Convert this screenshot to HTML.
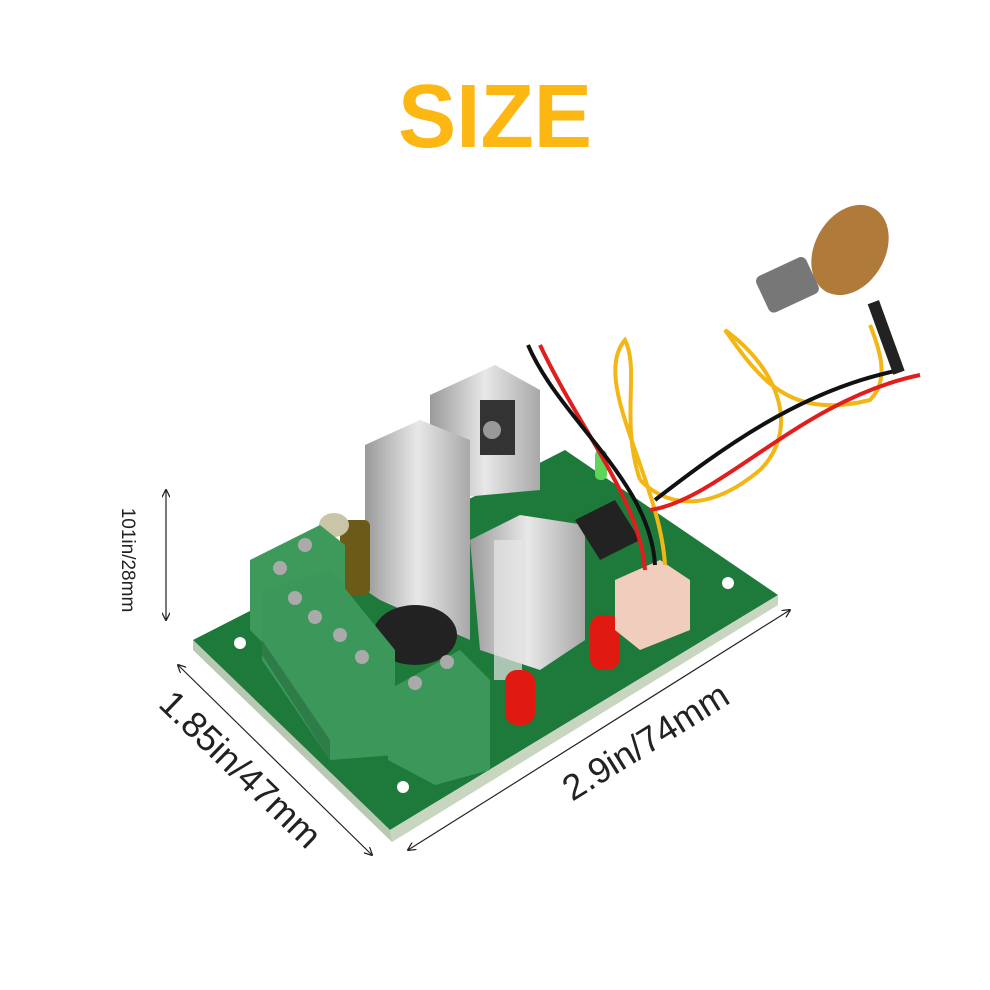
<!DOCTYPE html>
<html><head><meta charset="utf-8"><style>
html,body{margin:0;padding:0;background:#fff;}
svg{display:block}
text{font-family:"Liberation Sans","Noto Sans CJK SC",sans-serif;}
</style></head><body>
<svg width="990" height="990" viewBox="0 0 990 990" xmlns="http://www.w3.org/2000/svg">
<defs>
<marker id="ar" viewBox="0 0 10 10" refX="9" refY="5" markerWidth="7" markerHeight="7" orient="auto-start-reverse"><path d="M0,0 L10,5 L0,10" fill="none" stroke="#222" stroke-width="1.5"/></marker>
<linearGradient id="al" x1="0" x2="1"><stop offset="0" stop-color="#9a9a9a"/><stop offset="0.5" stop-color="#e8e8e8"/><stop offset="1" stop-color="#a8a8a8"/></linearGradient>
</defs>
<text x="495" y="147" text-anchor="middle" font-size="90" font-weight="bold" fill="#fdb713" textLength="194" lengthAdjust="spacingAndGlyphs">SIZE</text>

<!-- PCB -->
<polygon points="193,640 565,450 778,595 390,830" fill="#1e7a3a"/>
<polygon points="390,830 778,595 778,605 392,842" fill="#c8d6c0"/>
<polygon points="193,640 390,830 392,842 193,650" fill="#b9c9b1"/>
<circle cx="240" cy="643" r="6" fill="#fff"/><circle cx="403" cy="787" r="6" fill="#fff"/><circle cx="728" cy="583" r="6" fill="#fff"/>

<!-- heatsinks -->
<polygon points="430,395 495,365 540,390 540,490 430,500" fill="url(#al)"/>
<polygon points="365,445 420,420 470,440 470,640 380,600 365,590" fill="url(#al)"/>
<rect x="480" y="400" width="35" height="55" fill="#333"/>
<circle cx="492" cy="430" r="9" fill="#999"/>
<polygon points="470,540 520,515 585,525 585,640 540,670 480,650" fill="url(#al)"/>
<rect x="494" y="540" width="28" height="140" fill="#e6e6e6" opacity="0.7"/>
<ellipse cx="415" cy="635" rx="42" ry="30" fill="#222"/>

<!-- capacitor -->
<rect x="340" y="520" width="30" height="75" rx="6" fill="#6b5a18"/>
<ellipse cx="334" cy="525" rx="15" ry="12" fill="#c9c6a8"/>

<!-- terminals -->
<polygon points="250,560 320,525 345,545 345,615 265,645 250,630" fill="#3d9a5a"/>
<polygon points="262,590 330,570 395,650 395,755 330,760 262,660" fill="#3c985a"/>
<polygon points="262,655 330,760 330,740 262,640" fill="#2e7d48"/>
<polygon points="388,690 460,650 490,680 490,770 435,785 388,760" fill="#3c985a"/>
<circle cx="280" cy="568" r="7" fill="#aaa"/><circle cx="305" cy="545" r="7" fill="#aaa"/>
<circle cx="295" cy="598" r="7" fill="#aaa"/><circle cx="315" cy="617" r="7" fill="#aaa"/><circle cx="340" cy="635" r="7" fill="#aaa"/><circle cx="362" cy="657" r="7" fill="#aaa"/>
<circle cx="415" cy="683" r="7" fill="#aaa"/><circle cx="447" cy="662" r="7" fill="#aaa"/>

<!-- IC, LEDs, connector -->
<polygon points="575,520 615,500 640,540 600,560" fill="#222"/>
<rect x="590" y="615" width="30" height="55" rx="12" fill="#e01a10"/>
<rect x="505" y="670" width="30" height="55" rx="12" fill="#e01a10"/>
<polygon points="615,580 660,560 690,580 690,630 640,650 615,630" fill="#f1cdbd"/>
<rect x="595" y="450" width="12" height="30" rx="5" fill="#5fd45a"/>

<!-- wires -->
<path d="M645,570 C640,500 580,430 540,345" stroke="#e21d1d" stroke-width="4" fill="none"/>
<path d="M655,565 C650,480 560,420 528,345" stroke="#111" stroke-width="4" fill="none"/>
<path d="M665,565 C660,480 590,380 625,340 C640,370 620,420 640,480" stroke="#f2b714" stroke-width="4" fill="none"/>
<path d="M640,480 C660,500 700,520 760,470 C800,430 780,370 725,330 C760,380 790,420 870,400 C890,380 880,350 870,325" stroke="#f2b714" stroke-width="4" fill="none"/>
<path d="M655,500 C720,450 800,390 900,370" stroke="#111" stroke-width="4" fill="none"/>
<path d="M650,510 C720,500 800,400 920,375" stroke="#e21d1d" stroke-width="4" fill="none"/>
<rect x="880" y="300" width="12" height="75" fill="#222" transform="rotate(-20 886 337)"/>

<!-- potentiometer -->
<ellipse cx="850" cy="250" rx="35" ry="48" fill="#b07a3a" transform="rotate(30 850 250)"/>
<rect x="760" y="265" width="55" height="40" rx="6" fill="#777" transform="rotate(-25 787 285)"/>

<!-- dimension lines -->
<line x1="166" y1="490" x2="166" y2="620" stroke="#222" stroke-width="1.2" marker-start="url(#ar)" marker-end="url(#ar)"/>
<text transform="translate(122,560) rotate(90)" text-anchor="middle" font-size="19" fill="#222">101in/28mm</text>
<line x1="178" y1="665" x2="372" y2="855" stroke="#222" stroke-width="1.2" marker-start="url(#ar)" marker-end="url(#ar)"/>
<text transform="translate(232,778) rotate(44)" text-anchor="middle" font-size="36" fill="#222">1.85in/47mm</text>
<line x1="408" y1="850" x2="790" y2="610" stroke="#222" stroke-width="1.2" marker-start="url(#ar)" marker-end="url(#ar)"/>
<text transform="translate(652,752) rotate(-32)" text-anchor="middle" font-size="36" fill="#222">2.9in/74mm</text>
</svg>
</body></html>
